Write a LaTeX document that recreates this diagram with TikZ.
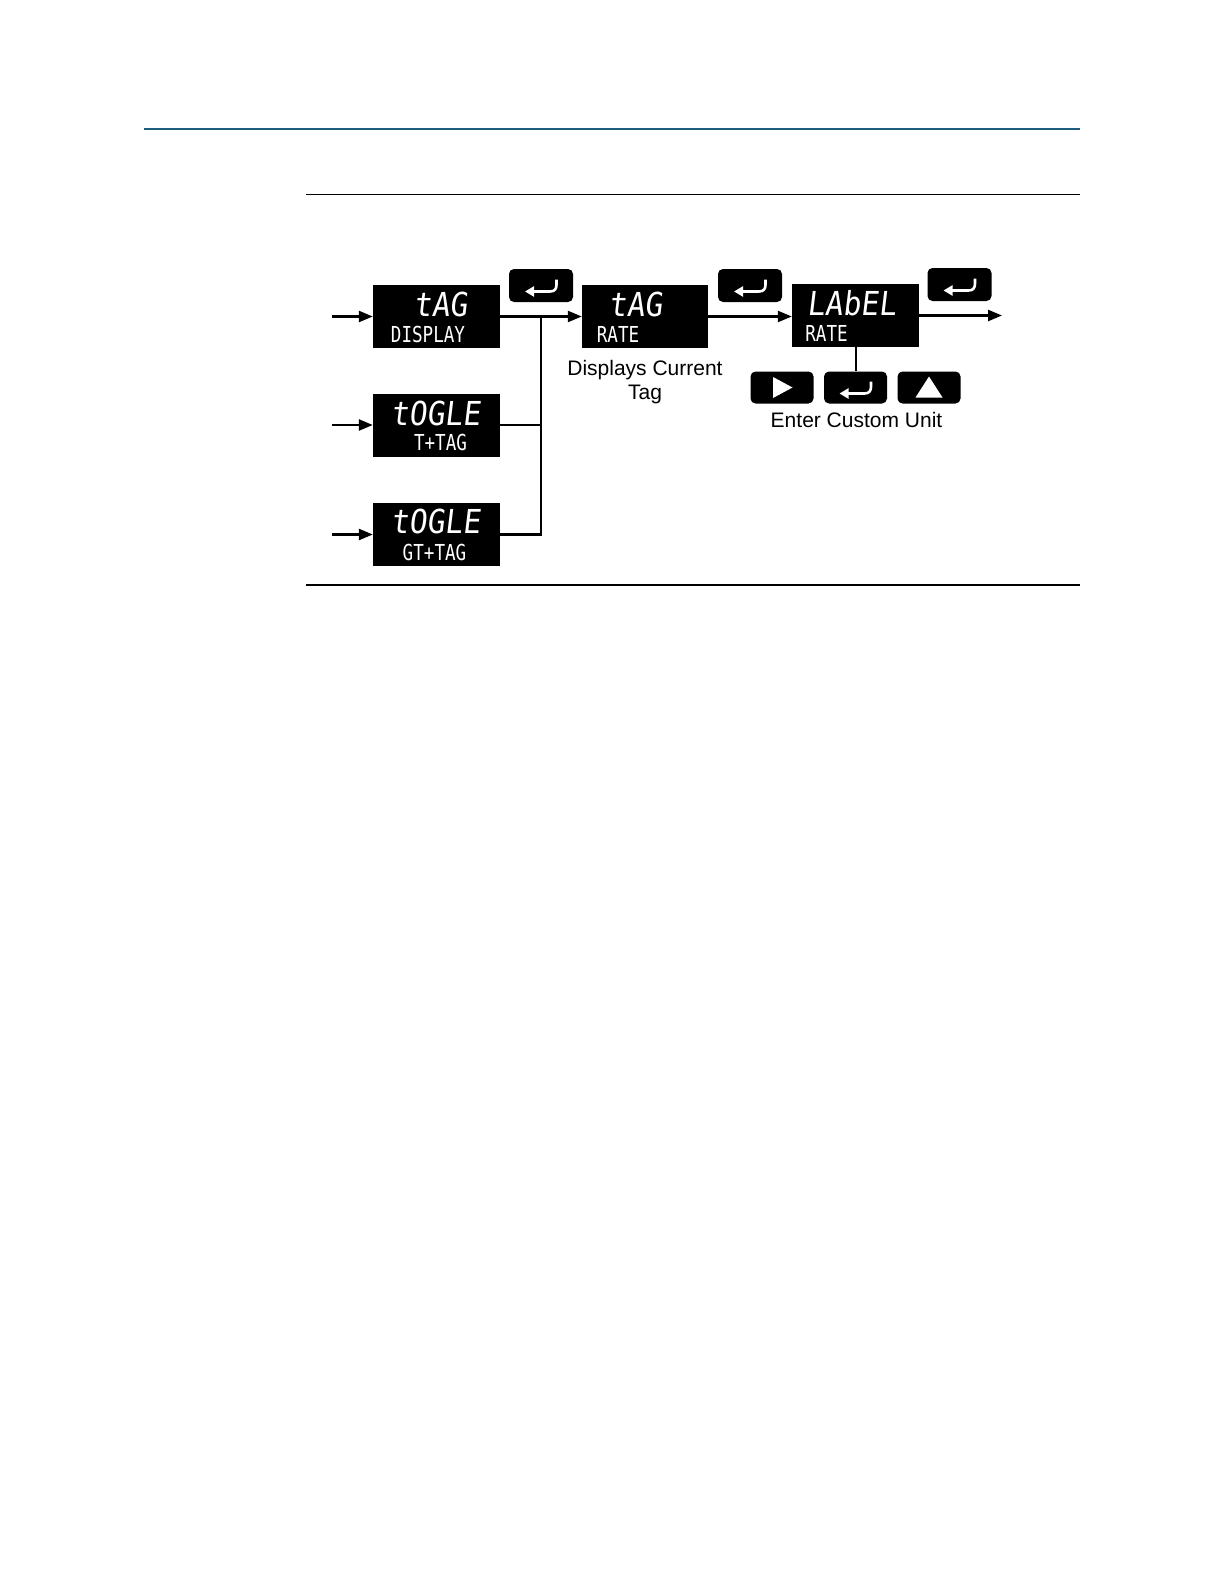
\documentclass[tikz,border=0pt]{standalone}
\usepackage{fontspec}
\setmainfont{Liberation Sans}
\newfontfamily\segbig[FakeStretch=0.9,FakeSlant=0.12]{DejaVu Sans Mono}
\newfontfamily\segsmall[FakeStretch=0.8]{DejaVu Sans Mono}
\usetikzlibrary{arrows.meta}
\definecolor{rulblue}{RGB}{30,92,128}
\newcommand\entericon[1]{%
  \draw[icon, {Triangle[length=9pt,width=10pt]}-]
    ([shift={(-16,6)}]#1.center) -- ([shift={(9,6)}]#1.center)
    .. controls ([shift={(14,6)}]#1.center) and ([shift={(15.5,3)}]#1.center) ..
    ([shift={(15.5,-1)}]#1.center) -- ([shift={(15.5,-6)}]#1.center);}
\begin{document}
\begin{tikzpicture}[x=1pt,y=-1pt,
  disp/.style={fill=black, minimum width=127pt, minimum height=63pt, inner sep=0pt},
  keybox/.style={fill=black, rounded corners=5pt, minimum width=64pt, minimum height=33pt, inner sep=0pt},
  big/.style={text=white, font=\segbig\fontsize{33}{33}\selectfont, inner sep=0pt, anchor=base},
  small/.style={text=white, font=\segsmall\fontsize{22}{22}\selectfont, inner sep=0pt, anchor=base},
  conn/.style={line width=2.4pt},
  flow/.style={conn, -{Triangle[length=14pt,width=11pt]}},
  icon/.style={white, line width=2.6pt},
  lbl/.style={font=\fontsize{21}{24.5}\selectfont, align=center, inner sep=0pt}]
\useasboundingbox (0,0) rectangle (1224,1584);
\fill[white] (0,0) rectangle (1224,1584);

% rules
\coordinate (rb1) at (144,129.3); \coordinate (rb2) at (1080,129.3);
\coordinate (rt1) at (306,194.3); \coordinate (rt2) at (1080,194.3);
\coordinate (rs1) at (306,585);   \coordinate (rs2) at (1080,585);
\draw[rulblue, line width=2pt] (rb1) -- (rb2);
\draw[line width=1.4pt] (rt1) -- (rt2);
\draw[line width=1.4pt] (rs1) -- (rs2);

% displays
\node[disp] (d1) at (436.5,316.5) {};
\node[disp] (d2) at (436.5,425) {};
\node[disp] (d3) at (436.5,534.5) {};
\node[disp, minimum width=126pt] (d4) at (645,316.5) {};
\node[disp] (d5) at (855.5,315.5) {};

\node[big] (t1) at (440.5,316) {tAG};
\node[small] (s1) at (428,342) {DISPLAY};
\node[big] (t2) at (435.5,425) {tOGLE};
\node[small] (s2) at (440.5,450) {T+TAG};
\node[big] (t3) at (435.5,533) {tOGLE};
\node[small] (s3) at (434.5,560) {GT+TAG};
\node[big] (t4) at (635.5,316) {tAG};
\node[small] (s4) at (618,342) {RATE};
\node[big] (t5) at (851.5,315) {LAbEL};
\node[small] (s5) at (826.5,341) {RATE};

% keys
\node[keybox] (b1) at (541,285.5) {};
\node[keybox] (b2) at (750,285.5) {};
\node[keybox] (b3) at (959.5,284.5) {};
\node[keybox, minimum width=63pt, minimum height=32pt] (bR) at (782,387.5) {};
\node[keybox, minimum width=63pt, minimum height=32pt] (bE) at (855.5,387.5) {};
\node[keybox, minimum width=63pt, minimum height=32pt] (bU) at (929,387.5) {};
\entericon{b1}
\entericon{b2}
\entericon{b3}
\entericon{bE}
\fill[white] ([shift={(-9,-10.5)}]bR.center) -- ([shift={(-9,10.5)}]bR.center) -- ([shift={(10.5,0)}]bR.center) -- cycle;
\fill[white] ([shift={(-13.5,10)}]bU.center) -- ([shift={(13.5,10)}]bU.center) -- ([shift={(0,-11)}]bU.center) -- cycle;

% labels
\node[lbl, anchor=north] (l1) at (645,360) {Displays Current\\Tag};
\node[lbl, anchor=base] (l2) at (856.5,427) {Enter Custom Unit};

% connectors
\coordinate (in1) at (332,316.5);
\coordinate (in2) at (332,425);
\coordinate (in3) at (332,534.5);
\coordinate (j1) at (541,316.5);
\coordinate (j2) at (541,425);
\coordinate (j3) at (541,534.5);
\coordinate (out) at (1002,315.5);
\draw[flow] (in1) -- (d1.west);
\draw[flow] (in2) -- (d2.west);
\draw[flow] (in3) -- (d3.west);
\draw[flow] (d1.east) -- (d4.west);
\draw[conn] (d2.east) -- (j2);
\draw[conn] (d3.east) -- (j3) -- (j1);
\draw[flow] (d4.east) -- (d4.east -| d5.west);
\draw[flow] (d5.east) -- (out);
\draw[line width=2pt] (d5.south) -- (bE.north);
\end{tikzpicture}
\end{document}
